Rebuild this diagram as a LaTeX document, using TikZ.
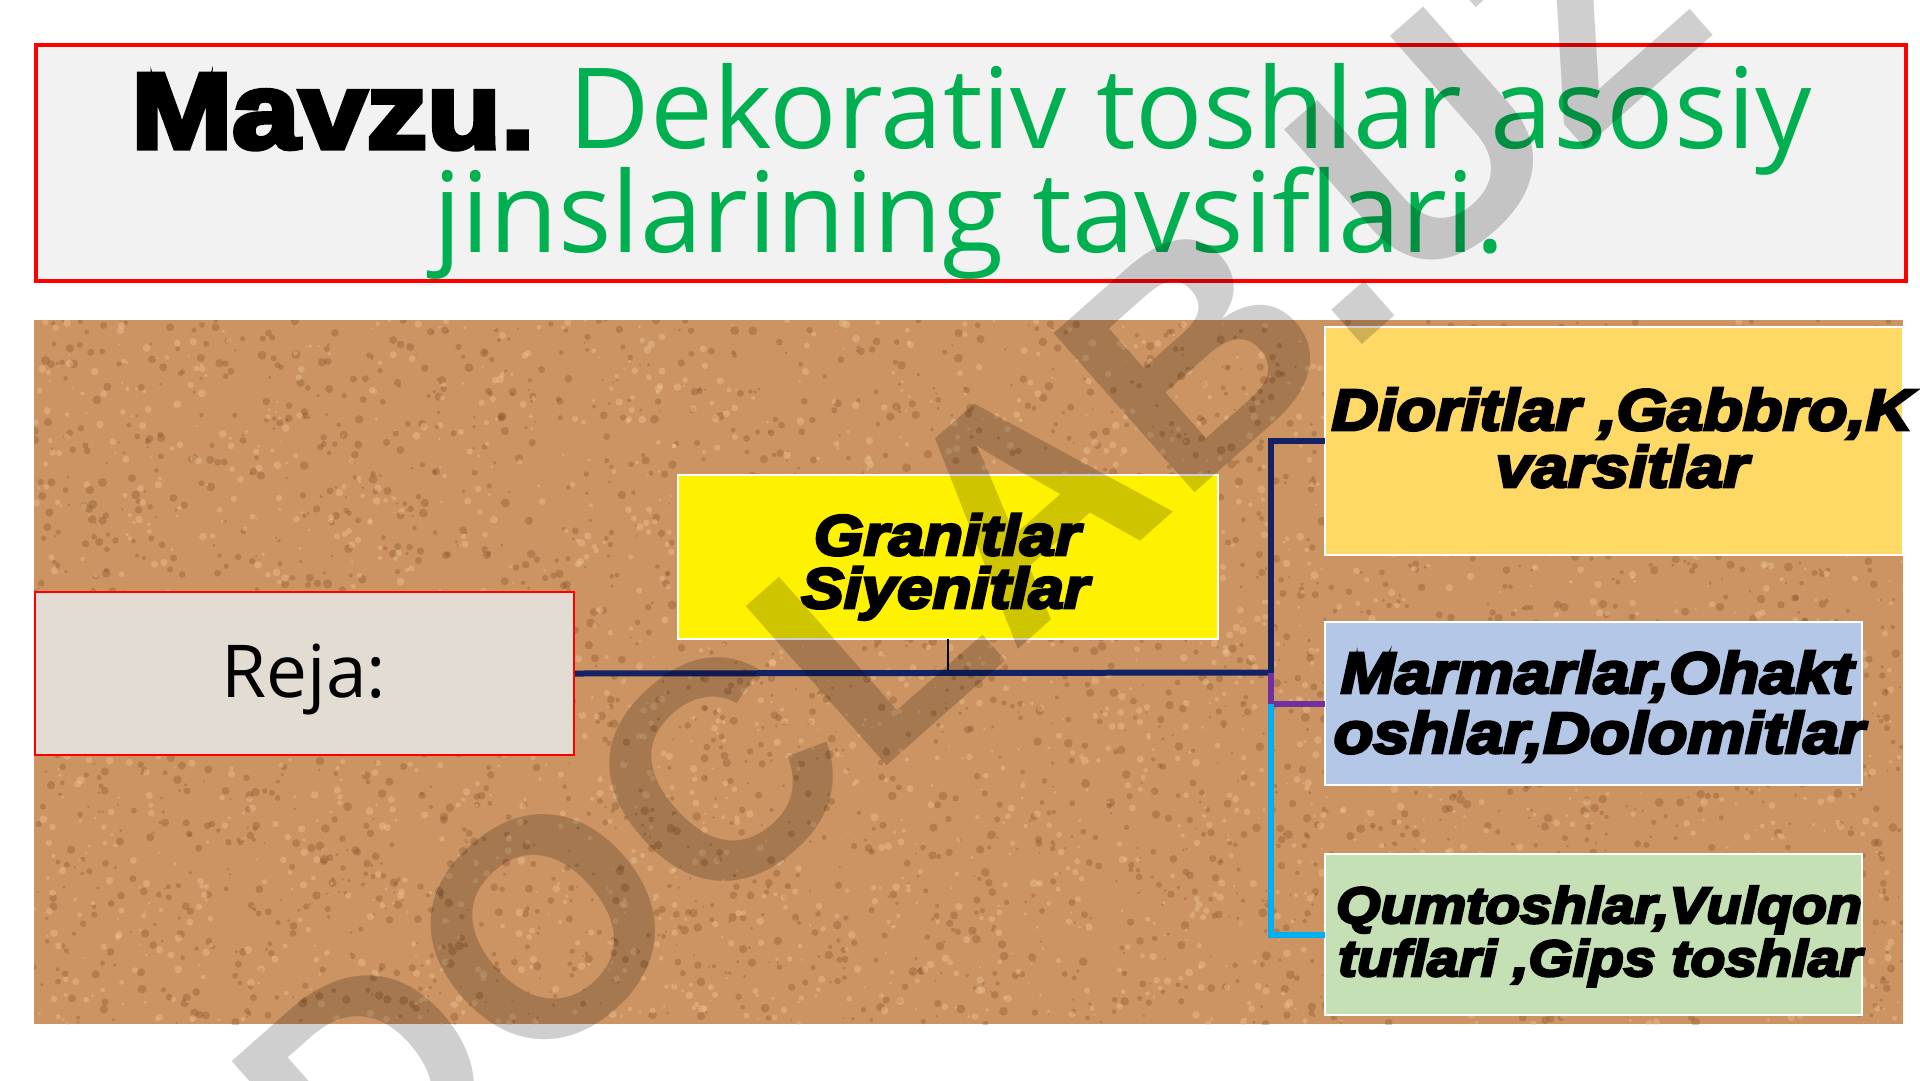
\documentclass[tikz,border=0pt]{standalone}
\usepackage{fontspec}
\setmainfont{Open Sans}
\newfontfamily\opensans{Open Sans}
\newfontfamily\heavy[FakeBold=5,FakeStretch=1.13]{Liberation Sans}
\newfontfamily\heavyit[FakeBold=5,FakeStretch=1.12]{Liberation Sans}
\newfontfamily\wmfont{Liberation Sans}
\definecolor{tgreen}{RGB}{0,176,80}
\definecolor{tred}{RGB}{255,0,0}
\definecolor{tgray}{RGB}{242,242,242}
\definecolor{cork}{RGB}{204,148,98}
\definecolor{corkdark}{RGB}{125,75,35}
\definecolor{corklight}{RGB}{240,200,150}
\definecolor{rejafill}{RGB}{226,220,210}
\definecolor{navy}{RGB}{18,34,100}
\definecolor{purp}{RGB}{112,48,160}
\definecolor{cyanl}{RGB}{0,176,240}
\definecolor{gold}{RGB}{255,217,102}
\definecolor{lblue}{RGB}{180,199,231}
\definecolor{lgreen}{RGB}{197,224,180}
\definecolor{thin}{RGB}{125,145,170}
\begin{document}
\begin{tikzpicture}[x=1pt,y=-1pt,
  cbox/.style={draw=white,line width=1.5pt,inner sep=0pt,outer sep=0pt},
  hlbl/.style={anchor=base,inner sep=0pt,font=\heavyit\bfseries\itshape\fontsize{58}{58}\selectfont},
  slbl/.style={anchor=base,inner sep=0pt,font=\heavyit\bfseries\itshape\fontsize{51}{51}\selectfont},
  glbl/.style={anchor=base,inner sep=0pt,font=\heavyit\bfseries\itshape\fontsize{57}{57}\selectfont},
  link/.style={line width=6pt}]
\fill[white] (0,0) rectangle (1920,1080);
\useasboundingbox (0,0) rectangle (1920,1080);

% title
\node[draw=tred,line width=4pt,fill=tgray,inner sep=0pt,minimum width=1870pt,minimum height=236pt,anchor=north west] (title) at (34,43) {};
\node[anchor=base,inner sep=0pt] (t1) at (972,148) {{\heavy\bfseries\fontsize{107}{107}\selectfont Mavzu.}\hspace{34pt}{\color{tgreen}\opensans\fontsize{112}{104}\selectfont Dekorativ toshlar asosiy}};
\node[anchor=base,inner sep=0pt,text=tgreen,font=\opensans\fontsize{112}{104}\selectfont] (t2) at (969,252) {jinslarining tavsiflari.};

% cork background
\fill[cork] (34,320) rectangle (1903,1024);
\begin{scope}
\clip (34,320) rectangle (1903,1024);
\pgfmathsetseed{42}
\foreach \i in {1,...,3200}{
  \pgfmathsetmacro\xx{34+rnd*1869}
  \pgfmathsetmacro\yy{320+rnd*704}
  \pgfmathsetmacro\rr{1+rnd*3.5}
  \fill[corkdark,opacity=0.3] (\xx,\yy) circle (\rr);
}
\foreach \i in {1,...,2500}{
  \pgfmathsetmacro\xx{34+rnd*1869}
  \pgfmathsetmacro\yy{320+rnd*704}
  \pgfmathsetmacro\rr{1+rnd*3}
  \fill[corklight,opacity=0.4] (\xx,\yy) circle (\rr);
}
\end{scope}

% boxes
\node[draw=tred,line width=2pt,fill=rejafill,inner sep=0pt,minimum width=539pt,minimum height=163pt,anchor=north west] (reja) at (34,591) {};
\node[anchor=base,inner sep=0pt,font=\opensans\fontsize{73}{73}\selectfont] (rejat) at (304,697) {Reja:};

\node[cbox,fill=yellow,minimum width=540pt,minimum height=164pt,anchor=north west] (gran) at (678,475) {};
\node[glbl] (gran1) at (947,555) {Granitlar};
\node[glbl] (gran2) at (945,608) {Siyenitlar};

\node[cbox,fill=gold,minimum width=578pt,minimum height=228pt,anchor=north west] (dior) at (1325,327) {};
\node[cbox,fill=lblue,minimum width=537pt,minimum height=163pt,anchor=north west] (marm) at (1325,622) {};
\node[cbox,fill=lgreen,minimum width=537pt,minimum height=161pt,anchor=north west] (qum) at (1325,854) {};

\node[hlbl] (dior1) at (1622,430) {Dioritlar ,Gabbro,K};
\node[hlbl] (dior2) at (1622,487) {varsitlar};
\node[hlbl] (marm1) at (1597,693) {Marmarlar,Ohakt};
\node[hlbl] (marm2) at (1599,753) {oshlar,Dolomitlar};
\node[slbl] (qum1) at (1599,923) {Qumtoshlar,Vulqon};
\node[slbl] (qum2) at (1600,976) {tuflari ,Gips toshlar};

% connectors
\coordinate (jn) at (1271,672.5);
\coordinate (jp) at (1271,703.5);
\draw[thin,line width=1.5pt] (gran.south) -- (gran.south |- reja.east);
\draw[link,navy] (reja.east) -- (jn);
\draw[link,navy] (jn) |- (dior.west);
\draw[link,purp] (jn) |- (marm.west);
\draw[link,cyanl] (jp) |- (qum.west);

% watermark
\node[rotate=41.5,opacity=0.19,text=black,inner sep=0pt,font=\wmfont\bfseries\fontsize{309}{309}\selectfont] (wm) at (968,552) {DOCLAB.UZ};
\end{tikzpicture}
\end{document}
